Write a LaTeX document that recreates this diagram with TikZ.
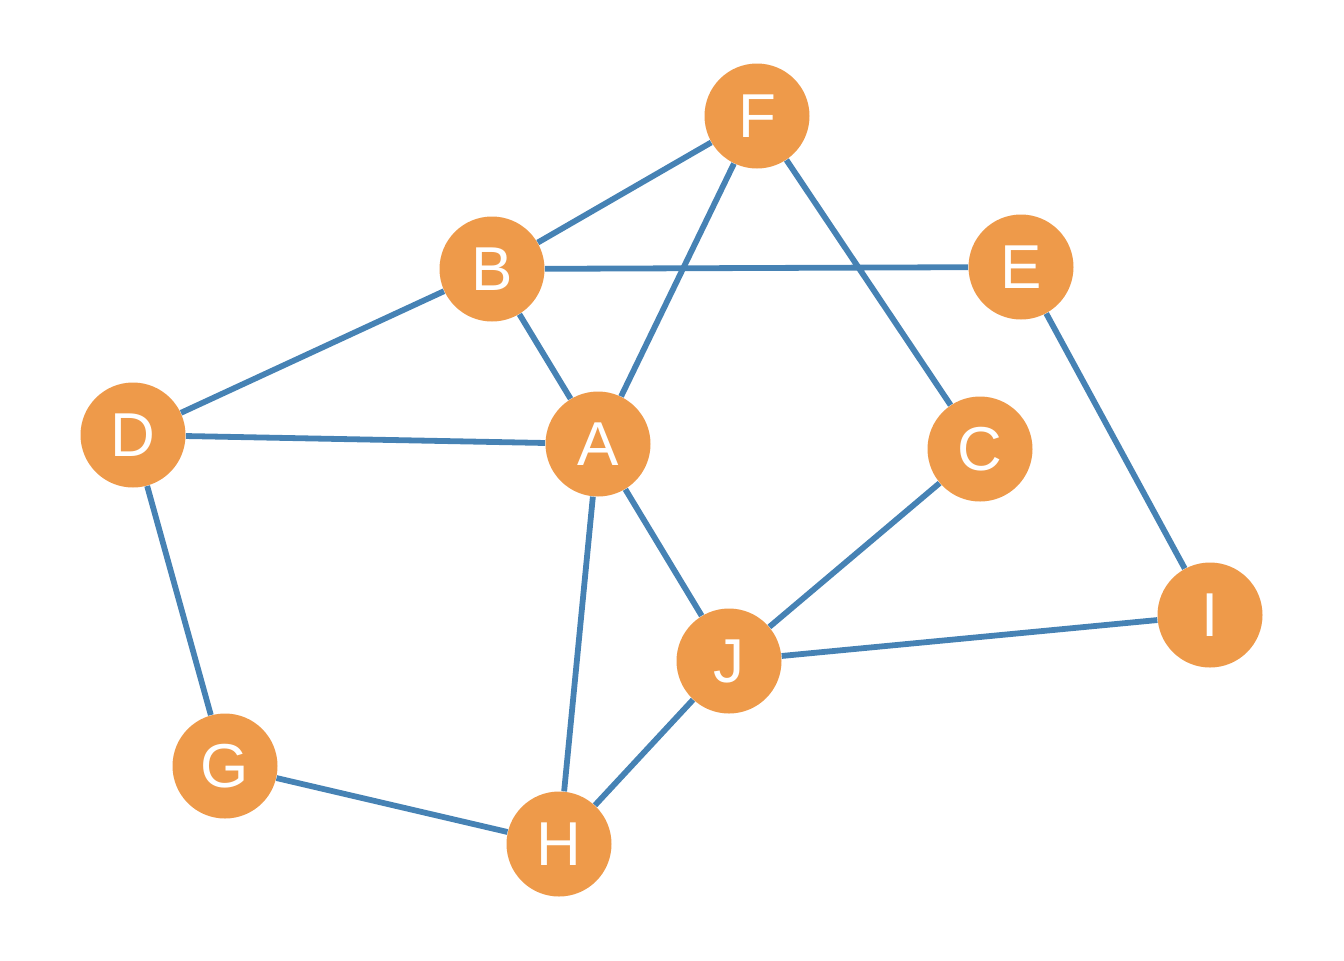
\documentclass[tikz,border=0pt]{standalone}
\usepackage{fontspec}
\setmainfont{Liberation Sans}
\definecolor{nodeorange}{HTML}{EE9A4A}
\definecolor{edgeblue}{HTML}{4682B4}
\begin{document}
\begin{tikzpicture}[x=0.5pt,y=-0.5pt,
  vertex/.style={circle,fill=nodeorange,draw=none,minimum size=52.5pt,inner sep=0pt,text=white,font=\fontsize{31}{31}\selectfont},
  edge/.style={draw=edgeblue,line width=2.9pt}]
\useasboundingbox (0,0) rectangle (1344,960);
\node[vertex] (F) at (757,116) {F};
\node[vertex] (B) at (492,269) {B};
\node[vertex] (E) at (1021,267) {E};
\node[vertex] (D) at (133,435) {D};
\node[vertex] (A) at (598,444) {A};
\node[vertex] (C) at (980,449) {C};
\node[vertex] (I) at (1210,615) {I};
\node[vertex] (J) at (729,661) {J};
\node[vertex] (G) at (225,766) {G};
\node[vertex] (H) at (559,844) {H};
\foreach \a/\b in {F/B,F/A,F/C,B/E,B/D,B/A,D/A,D/G,A/J,A/H,C/J,E/I,J/I,J/H,G/H}
  \path[edge] (\a) -- (\b);
\end{tikzpicture}
\end{document}
